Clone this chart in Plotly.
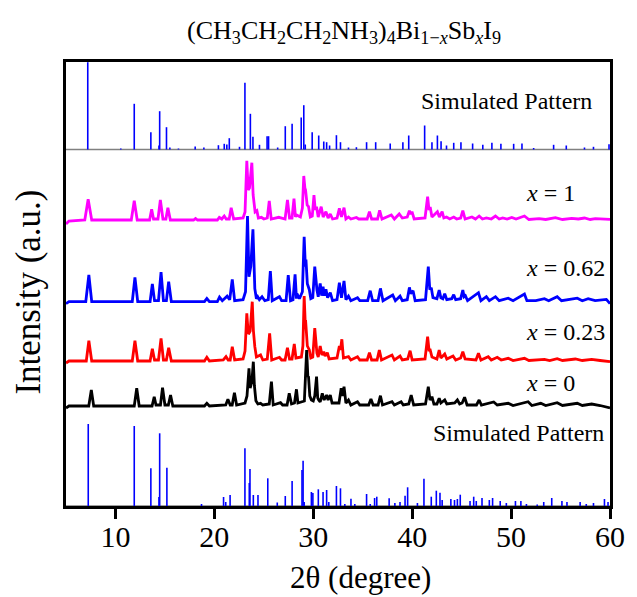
import plotly.graph_objects as go

# ---- simulated stick patterns: 2-theta positions (deg) and relative intensities ----
SIM_TOP_POS = [7.2, 10.54, 11.9, 13.58, 14.4, 14.47, 15.16, 15.5, 16.37, 18.06, 18.94, 20.41, 21.0, 21.26,
               21.51, 22.54, 23.09, 23.64, 23.9, 24.56, 25.33, 25.48, 26.4, 27.17, 27.86, 28.78, 29.04,
               29.19, 29.89, 30.55, 31.06, 31.35, 31.65, 32.34, 32.75, 33.56, 34.36, 35.39, 36.31, 37.78,
               39.06, 39.65, 41.26, 42.0, 42.55, 42.92, 43.47, 44.2, 44.93, 46.11, 47.14, 48.06, 48.97,
               50.26, 51.1, 52.28, 54.3, 55.58, 57.42, 58.33, 59.9]
SIM_TOP_INT = [87.3, 1, 45.7, 17.3, 4, 38.3, 22.3, 2, 1, 3, 2, 4.3, 5.7, 5,
               11.3, 2.7, 66.7, 35.7, 12.7, 4.7, 13.3, 13.3, 2, 23.3, 25.7, 32, 44.3,
               5, 17.3, 14, 8, 7.3, 4, 14.3, 7.3, 2, 2.3, 7.3, 7.3, 6,
               7.3, 14, 24, 7.3, 14, 8.3, 4, 6.7, 7.3, 6, 4.7, 6.7, 5.7,
               5.7, 6, 1.5, 4.7, 4, 2, 2.7, 5.3]

SIM_BOT_POS = [7.25, 11.9, 13.58, 14.4, 14.47, 15.2, 18.7, 20.93, 21.15, 21.59, 23.09, 23.53, 23.6, 23.94,
               24.41, 25.4, 26.36, 27.17, 27.86, 28.86, 28.97, 29.08, 29.81, 29.96, 30.51, 30.99, 31.35,
               31.57, 32.34, 32.75, 33.19, 33.81, 34.2, 35.39, 35.76, 36.2, 36.42, 37.67, 38.25, 38.77,
               39.28, 39.54, 40.53, 41.19, 41.93, 42.44, 42.81, 43.03, 43.91, 44.28, 44.57, 44.86, 45.85,
               46.22, 46.48, 47.06, 47.8, 48.13, 48.9, 49.52, 50.44, 50.99, 51.55, 52.64, 53.3, 54.11,
               55.14, 55.65, 56.98, 57.6, 58.33, 59.44, 59.8]
SIM_BOT_INT = [82, 80, 37.7, 9, 72.7, 38.3, 2, 9, 4, 11, 57.7, 23, 37, 11,
               11, 27.7, 3.5, 10, 25, 36, 45.3, 4, 14, 13, 16.7, 14, 16,
               4, 20, 17.7, 2, 7.3, 2, 12, 2, 8, 9.3, 7.7, 3, 4,
               10.3, 18.7, 3, 27.3, 9.3, 15.3, 13.3, 6, 7, 6, 7, 11.3, 5,
               9.3, 5, 8, 6, 8, 5, 3, 5, 5, 2, 1.5, 4, 8,
               5, 4, 4, 2, 3, 7, 4]

# ---- measured patterns: (2-theta, intensity above own baseline) vertices ----
X1 = [[5.0, -4], [5.3, -1], [6.9, 0], [7.24, 20.7], [7.6, 0], [11.6, 0], [11.9, 19.3], [12.2, 0],
      [13.45, 0], [13.66, 10.7], [13.85, 1], [14.3, 1], [14.54, 20], [14.8, 1], [15.1, 1], [15.3, 12.3],
      [15.55, 0], [17.9, 0], [18.1, 1.5], [18.3, 0], [20.3, 0], [20.5, 2.7], [20.75, 1], [21.0, 4],
      [21.2, 1], [21.5, 1], [21.7, 12.3], [21.95, 1], [22.9, 2], [23.1, 8], [23.28, 59.3], [23.42, 30],
      [23.55, 32], [23.79, 57.3], [23.92, 25], [24.0, 20], [24.12, 8], [24.3, 9.3], [24.45, 2],
      [24.75, 2.7], [25.0, 1], [25.35, 2], [25.55, 19], [25.75, 1], [26.51, 2.7], [27.15, 1],
      [27.39, 20], [27.6, 2], [27.85, 2], [28.05, 21.3], [28.2, 3], [28.3, 5], [28.7, 3], [28.9, 12],
      [29.04, 44], [29.15, 32], [29.22, 30], [29.38, 15], [29.52, 13.3], [29.7, 3], [29.9, 4],
      [30.07, 25], [30.2, 10], [30.33, 13.3], [30.5, 3], [30.8, 13.3], [31.0, 3], [31.28, 8.3],
      [31.5, 2], [31.72, 6], [31.95, 1], [32.4, 2], [32.64, 11.7], [32.85, 3], [33.11, 12.3], [33.3, 1],
      [33.56, 3], [33.8, 1], [34.36, 2.5], [34.6, 1], [35.45, 1], [35.68, 8.3], [35.9, 1], [36.5, 1],
      [36.71, 9.7], [36.95, 1], [37.89, 5], [38.2, 1], [38.69, 6], [39.0, 2], [39.5, 3], [39.72, 9.3],
      [39.85, 6], [39.98, 8.3], [40.2, 1], [41.3, 2], [41.56, 23.3], [41.7, 10], [41.82, 13], [42.0, 3],
      [42.55, 8.3], [42.75, 3], [43.03, 8.3], [43.2, 2], [43.47, 3], [43.8, 1], [44.2, 3], [44.5, 1],
      [44.9, 2], [45.12, 9.3], [45.35, 1], [46.04, 3], [46.4, 1], [46.77, 4], [47.1, 1], [47.5, 2],
      [48.0, 1], [48.42, 4], [48.8, 1], [49.15, 2], [49.6, 1], [50.07, 2.5], [50.5, 1], [51.35, 4],
      [51.8, 0.5], [52.83, 1.3], [53.5, 0.5], [54.48, 2.3], [55.2, 0.5], [56.13, 1.7], [56.8, 1],
      [57.42, 2], [58.0, 0.5], [58.52, 1.3], [59.3, 1], [60.0, 0.7]]

X062 = [[5.0, -2], [5.3, 0], [7.0, 0], [7.31, 26.7], [7.6, 0], [11.7, 0], [11.97, 24.3], [12.25, 0],
        [13.5, 0], [13.73, 17.7], [13.95, 1], [14.35, 1], [14.61, 29.7], [14.85, 1], [15.15, 1],
        [15.38, 20], [15.65, 0], [19.0, 0], [19.24, 3.2], [19.5, 0], [20.3, 0], [20.52, 4.5], [20.8, 1],
        [21.29, 5.5], [21.55, 2], [21.81, 22.3], [22.05, 1], [22.9, 2], [23.15, 10], [23.35, 85.7],
        [23.5, 25], [23.57, 29], [23.68, 35], [23.9, 72.3], [24.0, 35], [24.09, 13], [24.25, 3],
        [24.38, 5], [24.55, 2], [24.82, 5], [25.1, 1], [25.45, 2], [25.66, 30.7], [25.85, 1],
        [26.58, 5], [26.8, 1], [27.25, 1], [27.47, 26.7], [27.7, 1], [27.95, 2], [28.16, 27.3],
        [28.3, 3], [28.35, 8], [28.6, 3], [28.9, 10], [29.08, 65], [29.2, 35], [29.26, 42], [29.4, 18],
        [29.6, 12], [29.75, 3], [29.95, 4], [30.15, 35], [30.28, 15], [30.37, 12], [30.5, 5],
        [30.7, 18.3], [30.85, 6], [30.99, 15], [31.12, 6], [31.28, 12.3], [31.45, 4], [31.72, 9],
        [31.95, 1], [32.4, 2], [32.64, 19], [32.85, 4], [33.11, 20.7], [33.3, 2], [33.56, 5.5],
        [33.8, 1], [34.47, 4], [34.7, 1], [35.5, 1], [35.76, 11], [36.0, 1], [36.55, 1], [36.79, 13.3],
        [37.05, 1], [38.03, 6.7], [38.3, 1], [38.77, 5.5], [39.0, 1], [39.5, 2], [39.72, 14.3],
        [39.85, 8], [40.09, 11], [40.3, 1], [41.35, 2], [41.63, 35], [41.78, 12], [41.93, 14],
        [42.1, 4], [42.5, 3], [42.73, 11.7], [42.9, 4], [43.1, 3], [43.29, 8], [43.5, 2], [44.0, 3],
        [44.2, 7], [44.4, 2], [44.9, 3], [45.12, 11.7], [45.25, 5], [45.38, 6], [45.6, 1], [46.7, 9],
        [46.95, 1], [47.5, 5], [47.8, 1], [48.42, 5], [48.8, 1], [49.71, 3.5], [50.2, 1], [51.35, 7.7],
        [51.6, 1], [52.5, 1], [53.37, 3], [53.8, 1], [54.66, 5], [55.1, 1], [56.69, 3.5], [57.2, 1],
        [57.79, 3], [58.5, 1], [59.63, 2.3], [60.0, -2]]

X023 = [[5.0, -2], [5.3, 0], [7.05, 0], [7.31, 20.3], [7.6, 0], [11.7, 0], [11.97, 20.3], [12.25, 0],
        [13.5, 0], [13.73, 12.3], [13.95, 1], [14.35, 1], [14.61, 22.7], [14.85, 1], [15.15, 1],
        [15.38, 13.3], [15.65, 0], [19.0, 0], [19.24, 3.7], [19.5, 0], [20.9, 1], [21.18, 4.3],
        [21.4, 1], [21.6, 1], [21.81, 14.3], [22.05, 1], [22.9, 2], [23.1, 10], [23.28, 47.7],
        [23.42, 28], [23.5, 27.7], [23.62, 30], [23.83, 59.3], [23.95, 30], [24.09, 14.3], [24.25, 4],
        [24.67, 6], [24.9, 1], [25.35, 2], [25.59, 27.7], [25.8, 1], [26.58, 3.7], [26.8, 1],
        [27.15, 1], [27.39, 13.3], [27.6, 2], [27.85, 2], [28.08, 17], [28.25, 3], [28.8, 4],
        [28.95, 15], [29.08, 65], [29.18, 40], [29.22, 41], [29.4, 15], [29.6, 11], [29.75, 3],
        [29.95, 4], [30.15, 33], [30.28, 12], [30.37, 7.7], [30.5, 4], [30.7, 15], [30.88, 6],
        [31.06, 9.3], [31.2, 5], [31.42, 8.3], [31.6, 2], [32.4, 3], [32.64, 15], [32.75, 11],
        [32.89, 21.7], [33.05, 3], [33.56, 4.3], [33.8, 1], [34.47, 4.3], [34.7, 1], [35.45, 1],
        [35.68, 8.3], [35.9, 1], [36.45, 1], [36.68, 11], [36.9, 1], [37.96, 6], [38.2, 1], [38.77, 5],
        [39.0, 1], [39.55, 2], [39.79, 10.3], [40.0, 1], [41.3, 2], [41.56, 24.3], [41.7, 11],
        [41.82, 11], [42.0, 4], [42.5, 2], [42.73, 11], [42.9, 3], [43.29, 7], [43.5, 2], [44.13, 5],
        [44.4, 1], [44.9, 3], [45.12, 9.3], [45.35, 2], [46.45, 1], [46.7, 7.7], [46.95, 1],
        [47.69, 4.3], [48.0, 1], [48.6, 3.7], [49.0, 1], [49.71, 2.7], [50.2, 0.5], [51.35, 2.7],
        [51.8, 0.5], [53.37, 1.7], [53.9, 0.5], [54.66, 2.3], [55.2, 0.5], [56.5, 2], [57.2, 0.5],
        [58.15, 1.7], [59.0, 0.5], [60.0, -0.7]]

X0 = [[5.0, -2], [5.3, 0], [7.3, 0], [7.56, 16], [7.8, 0], [11.9, 0], [12.15, 17.7], [12.4, 0],
      [13.7, 0], [13.92, 9.3], [14.1, 1], [14.55, 1], [14.76, 18.3], [15.0, 1], [15.35, 1], [15.57, 11],
      [15.8, 0], [19.0, 0], [19.24, 2.7], [19.5, 0], [21.15, 1], [21.37, 6.7], [21.6, 1], [21.8, 1],
      [22.03, 13.3], [22.25, 1], [23.1, 3], [23.3, 10], [23.5, 37.7], [23.62, 18], [23.68, 20],
      [23.8, 25], [23.94, 44.3], [24.05, 20], [24.2, 5.3], [24.4, 2], [24.67, 2.7], [24.9, 1],
      [25.55, 2], [25.77, 24.3], [25.95, 1], [26.69, 3.3], [26.9, 1], [27.35, 1], [27.57, 12.7],
      [27.8, 2], [28.1, 3], [28.3, 16.7], [28.45, 3], [29.1, 5], [29.33, 56], [29.45, 30], [29.52, 29],
      [29.65, 10], [29.81, 6], [30.0, 5], [30.15, 10], [30.33, 29.3], [30.45, 8], [30.55, 6],
      [30.7, 4], [30.91, 12.7], [31.1, 6], [31.35, 11], [31.5, 6], [31.72, 11], [31.9, 3], [32.6, 3],
      [32.82, 17.7], [32.95, 10], [33.11, 19.3], [33.3, 3], [33.56, 6], [33.8, 1], [34.47, 4.3],
      [34.7, 1], [35.6, 1], [35.83, 7], [36.05, 1], [36.55, 1], [36.79, 10.3], [37.0, 1], [37.96, 4.3],
      [38.2, 1], [38.88, 4.3], [39.1, 1], [39.65, 2], [39.9, 11], [40.15, 1], [41.35, 2], [41.63, 19.3],
      [41.8, 6], [42.0, 9.3], [42.2, 2], [42.5, 2], [42.73, 7.7], [42.9, 3], [43.29, 6], [43.5, 2],
      [44.3, 3], [44.57, 6], [44.8, 2], [45.05, 3], [45.3, 8.7], [45.55, 1], [46.5, 1], [46.77, 6],
      [47.0, 1], [48.24, 4], [48.6, 1], [49.71, 2.7], [50.2, 0.5], [51.72, 4.3], [52.1, 0.5],
      [53.0, 2.7], [53.5, 0.5], [54.66, 3.3], [55.2, 0.5], [56.69, 2.7], [57.2, 0.5], [58.15, 2],
      [59.0, 0.5], [60.0, -2]]

SAMPLE_LABELS = ["1", "0.62", "0.23", "0"]

# ---- stacking offsets and styles ----
OFFSETS = {"1": 288, "0.62": 206.3, "0.23": 147, "0": 102}
COLORS = {"1": "#FF00FF", "0.62": "#0000FF", "0.23": "#FF0000", "0": "#000000"}
LABEL_Y = {"1": 315, "0.62": 240, "0.23": 176, "0": 125}
SIM_TOP_BASE = 358.5
SIM_BOT_BASE = 2.0
SEPARATOR_Y = 358.5
YMIN, YMAX = 2, 446
FONT = "'Times New Roman', 'Liberation Serif', Times, serif"
STICK_COLOR = "#0000FF"


def stick_trace(pos, inten, base):
    xs, ys = [], []
    for p, h in zip(pos, inten):
        xs += [p, p, None]
        ys += [base, base + h, None]
    return go.Scatter(x=xs, y=ys, mode="lines", line=dict(color=STICK_COLOR, width=1.6),
                      hoverinfo="skip", showlegend=False)


fig = go.Figure()

# separator between simulated reference (top) and measured patterns
fig.add_trace(go.Scatter(x=[5, 60], y=[SEPARATOR_Y, SEPARATOR_Y], mode="lines",
                         line=dict(color="#808080", width=1.5), showlegend=False, hoverinfo="skip"))
# simulated baselines
fig.add_trace(go.Scatter(x=[5, 60], y=[SIM_BOT_BASE, SIM_BOT_BASE], mode="lines",
                         line=dict(color="#808080", width=1.5), showlegend=False, hoverinfo="skip"))
fig.add_trace(stick_trace(SIM_TOP_POS, SIM_TOP_INT, SIM_TOP_BASE))
fig.add_trace(stick_trace(SIM_BOT_POS, SIM_BOT_INT, SIM_BOT_BASE))

data = {"1": X1, "0.62": X062, "0.23": X023, "0": X0}
for key in ["0", "0.23", "0.62", "1"]:
    pts = data[key]
    fig.add_trace(go.Scatter(
        x=[p[0] for p in pts],
        y=[p[1] + OFFSETS[key] for p in pts],
        mode="lines", line=dict(color=COLORS[key], width=2.8),
        name="x = " + key, showlegend=False, hoverinfo="skip"))

annotations = []
for key in SAMPLE_LABELS:
    annotations.append(dict(x=51.3, y=LABEL_Y[key], xref="x", yref="y", xanchor="left", yanchor="middle",
                            text="<i>x</i> = " + key, showarrow=False,
                            font=dict(family=FONT, size=24, color="black")))
annotations.append(dict(x=58.4, y=407, xref="x", yref="y", xanchor="right", yanchor="middle",
                        text="Simulated Pattern", showarrow=False,
                        font=dict(family=FONT, size=24, color="black")))
annotations.append(dict(x=59.55, y=75, xref="x", yref="y", xanchor="right", yanchor="middle",
                        text="Simulated Pattern", showarrow=False,
                        font=dict(family=FONT, size=24, color="black")))
# title
annotations.append(dict(
    x=0.511, y=1.068, xref="paper", yref="paper", xanchor="center", yanchor="middle",
    text="(CH<sub>3</sub>CH<sub>2</sub>CH<sub>2</sub>NH<sub>3</sub>)<sub>4</sub>Bi<sub>1\u2212<i>x</i></sub>"
         "Sb<sub><i>x</i></sub>I<sub>9</sub>",
    showarrow=False, font=dict(family=FONT, size=26, color="black")))
# axis titles
annotations.append(dict(x=0.5417, y=-0.16, xref="paper", yref="paper", xanchor="center", yanchor="middle",
                        text="2\u03b8 (degree)", showarrow=False,
                        font=dict(family=FONT, size=31, color="black")))
annotations.append(dict(x=-0.0688, y=0.482, xref="paper", yref="paper", xanchor="center", yanchor="middle",
                        text="Intensity (a.u.)", textangle=-90, showarrow=False,
                        font=dict(family=FONT, size=35, color="black")))

fig.update_layout(
    width=637, height=597,
    margin=dict(l=66, r=19, t=62, b=91),
    paper_bgcolor="white", plot_bgcolor="white",
    font=dict(family=FONT, color="black"),
    annotations=annotations,
    xaxis=dict(range=[5, 60], tickmode="array", tickvals=[10, 20, 30, 40, 50, 60],
               ticks="outside", ticklen=10, tickwidth=3, tickcolor="black",
               ticklabelstandoff=-8,
               showline=True, linewidth=3, linecolor="black", mirror=True,
               showgrid=False, zeroline=False,
               tickfont=dict(family=FONT, size=30, color="black")),
    yaxis=dict(range=[YMIN, YMAX], showticklabels=False, ticks="",
               showline=True, linewidth=3, linecolor="black", mirror=True,
               showgrid=False, zeroline=False),
)

fig.write_html("out.html")
